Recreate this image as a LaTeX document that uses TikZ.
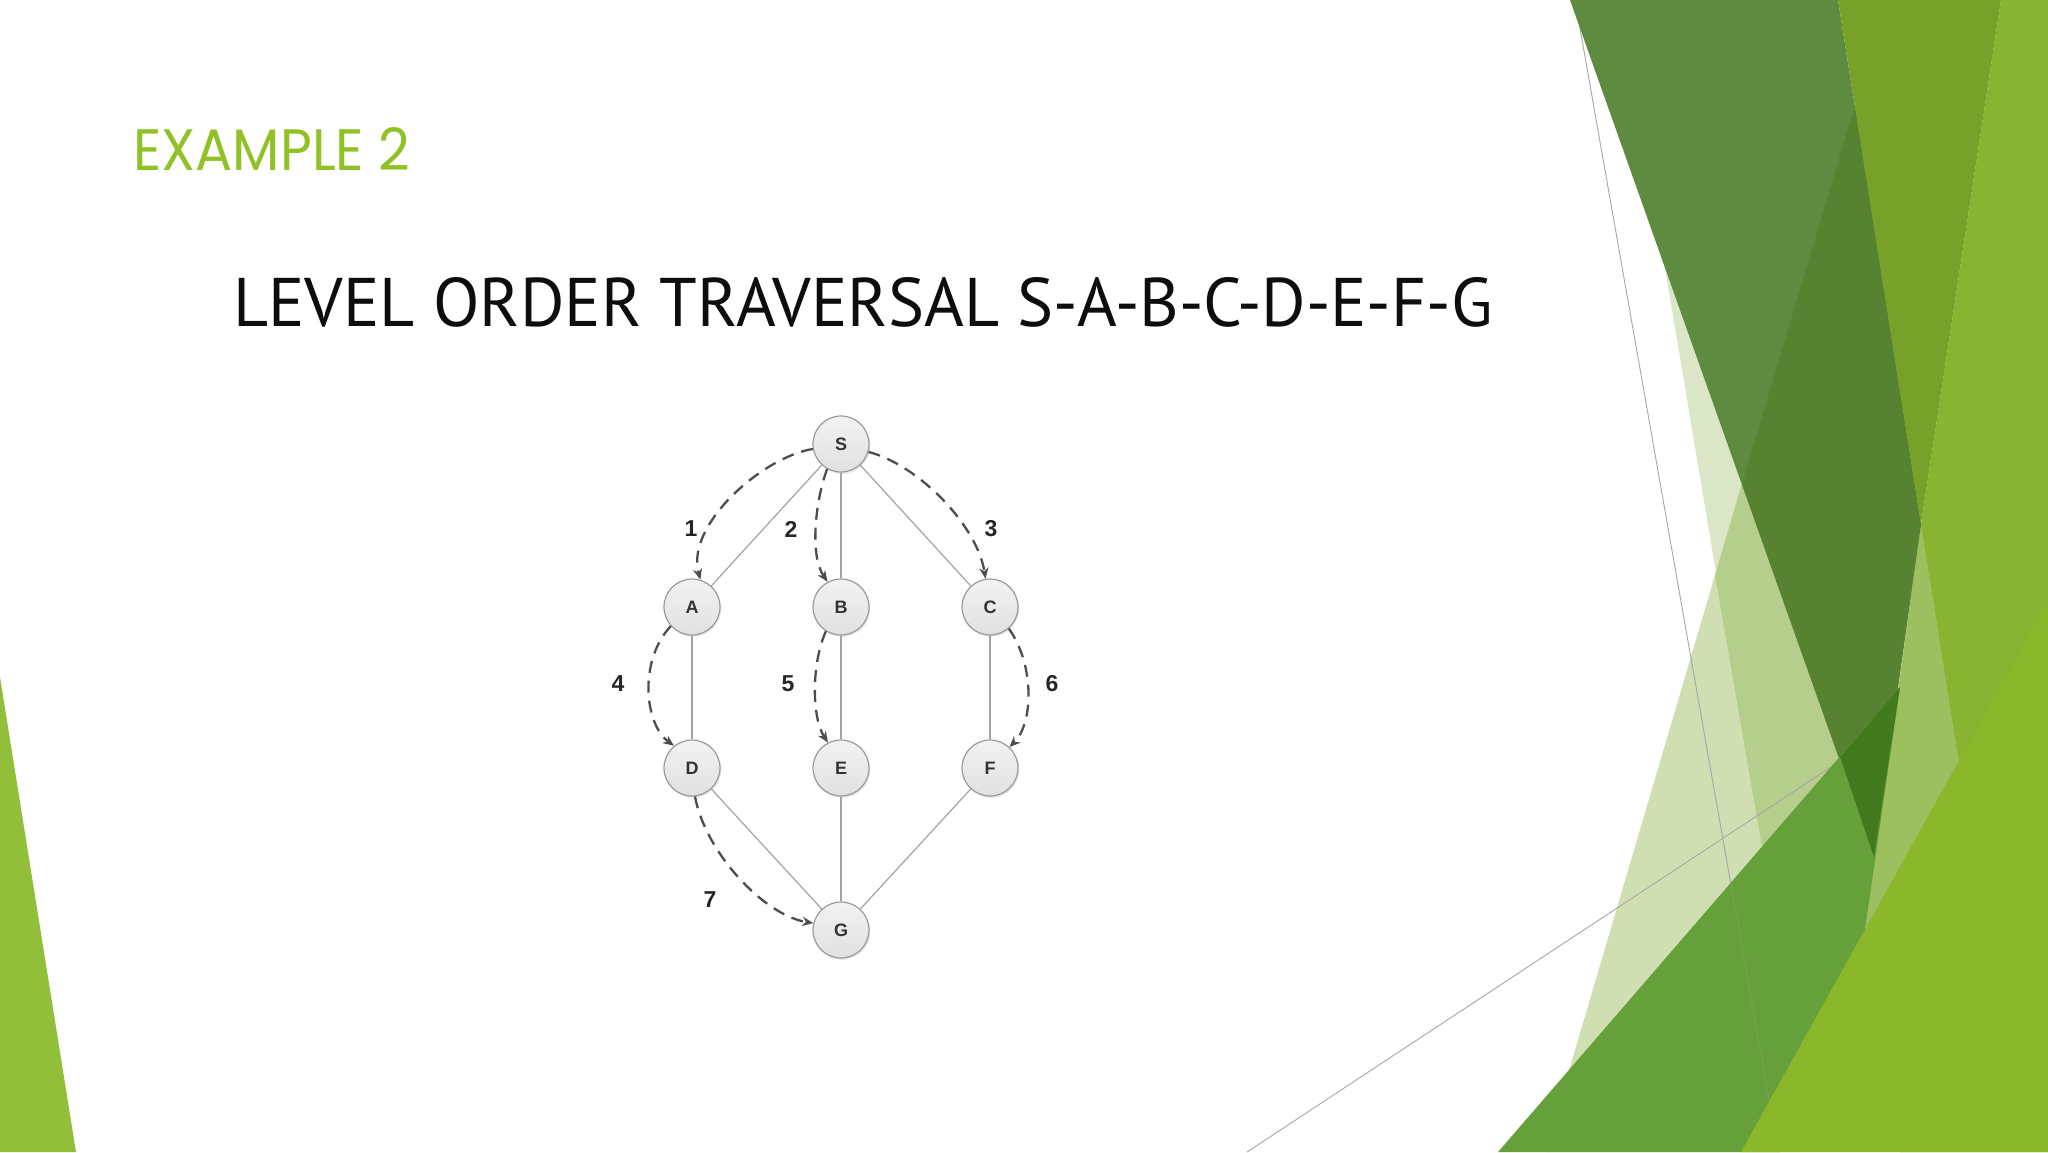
\documentclass[tikz,border=0pt]{standalone}
\usepackage{fontspec}
\usepackage{graphicx}
\setmainfont{Liberation Sans}
\newfontfamily\titlefont{PT Sans}
\newfontfamily\headfont{Poppins}
\usetikzlibrary{arrows.meta,shadows}
\definecolor{headgreen}{HTML}{90C226}
\definecolor{dOne}{HTML}{5E8B3F}
\definecolor{dTwo}{HTML}{568232}
\definecolor{medgreen}{HTML}{76A22A}
\definecolor{rightgreen}{HTML}{88B432}
\definecolor{qgreen}{HTML}{9CC060}
\definecolor{bandgreen}{HTML}{66A03A}
\definecolor{darkestgreen}{HTML}{437A1E}
\definecolor{limegreen}{HTML}{8AB82A}
\definecolor{lefttri}{HTML}{92BF3A}
\definecolor{paleone}{HTML}{DAE6C5}
\definecolor{paletwo}{HTML}{D0DFB1}
\definecolor{palemix}{HTML}{B6CE8B}
\definecolor{nodeline}{HTML}{9A9A9A}
\definecolor{edgegray}{HTML}{A3A3A3}
\definecolor{arrowgray}{HTML}{4D4D4D}
\begin{document}
\begin{tikzpicture}[x=0.5pt,y=-0.5pt,
  vert/.style={circle, draw=nodeline, line width=0.6pt, minimum size=28pt, inner sep=0pt,
    top color=white!95!black, bottom color=white!88!black,
    drop shadow={opacity=0.18, shadow xshift=0.6pt, shadow yshift=-0.9pt},
    font=\bfseries\fontsize{9}{9}\selectfont, text=black!80},
  edge/.style={draw=edgegray, line width=0.6pt},
  trav/.style={draw=arrowgray, line width=1.15pt, dash pattern=on 6pt off 4pt,
    -{Stealth[length=5.5pt,width=4.6pt]}},
  num/.style={font=\bfseries\fontsize{11.5}{11.5}\selectfont, text=black!85, inner sep=0pt},
  thin/.style={draw=black!35, line width=0.45pt}]
\useasboundingbox (0,0) rectangle (2048,1152);
\fill[white] (0,0) rectangle (2048,1152);

% left triangle
\fill[lefttri] (0,677) -- (76,1152) -- (0,1152) -- cycle;

% pale translucent shapes
\fill[paletwo] (1743,480) -- (1545,1152) -- (1800,1152) -- (1900,700) -- cycle;
\fill[paleone] (1665,268) -- (1762,847) -- (1860,760) -- (1800,450) -- cycle;
\fill[palemix] (1743,480) -- (1715,575) -- (1762,847) -- (1870,800) -- (1800,480) -- cycle;

% thin lines
\draw[thin] (1575,0) -- (1778,1152);
\draw[thin] (1247,1152) -- (1831,767);

% right strip and pale-medium triangle (extended below the lime shape)
\fill[rightgreen] (2001,0) -- (2048,0) -- (2048,1152) -- (1900,1152) -- (1921,524) -- cycle;
\fill[qgreen] (1921,524) -- (1958,757) -- (1990,800) -- (1800,1152) -- (1865,930) -- cycle;
% dark green band
\fill[dOne] (1570,0) -- (1838,0) -- (1921,524) -- (1874,857) -- cycle;
\fill[dTwo] (1855,105) -- (1921,524) -- (1874,857) -- (1742,484) -- cycle;
% medium triangle
\fill[medgreen] (1838,0) -- (2001,0) -- (1921,524) -- cycle;
% mid band
\fill[bandgreen] (1498,1152) -- (1900,687) -- (1865,930) -- (1780,1152) -- cycle;
\fill[darkestgreen] (1840,757) -- (1900,687) -- (1874,857) -- cycle;
\draw[thin, draw opacity=0.3] (1730,878) -- (1778,1152);
% lime
\fill[limegreen] (1741,1152) -- (2048,601) -- (2048,1152) -- cycle;

% heading texts
\node[anchor=base west, inner sep=0pt, text=headgreen] (head) at (133,170)
  {\resizebox{138.5pt}{21.5pt}{\headfont EXAMPLE 2}};
\node[anchor=base west, inner sep=0pt, text=black!95] (title) at (233,326)
  {\resizebox{629.5pt}{24.5pt}{\titlefont LEVEL ORDER TRAVERSAL S-A-B-C-D-E-F-G}};

% graph nodes
\node[vert] (S) at (841,444) {S};
\node[vert] (A) at (692,607) {A};
\node[vert] (B) at (841,607) {B};
\node[vert] (C) at (990,607) {C};
\node[vert] (D) at (692,768) {D};
\node[vert] (E) at (841,768) {E};
\node[vert] (F) at (990,768) {F};
\node[vert] (G) at (841,930) {G};

% tree edges
\draw[edge] (S) -- (A);
\draw[edge] (S) -- (B);
\draw[edge] (S) -- (C);
\draw[edge] (A) -- (D);
\draw[edge] (B) -- (E);
\draw[edge] (C) -- (F);
\draw[edge] (D) -- (G);
\draw[edge] (E) -- (G);
\draw[edge] (F) -- (G);

% traversal arrows
\draw[trav] (S.190) .. controls +(-50,8) and +(-15,-55) .. (A.73);
\draw[trav] (S.241) .. controls +(-12,32) and +(-18,-26) .. (B.118);
\draw[trav] (S.344) .. controls +(52,14) and +(-8,-52) .. (C.99);
\draw[trav] (A.222) .. controls +(-32,34) and +(-30,-22) .. (D.129);
\draw[trav] (B.238) .. controls +(-15,34) and +(-16,-24) .. (E.117);
\draw[trav] (C.311) .. controls +(26,36) and +(24,-24) .. (F.47);
\draw[trav] (D.276) .. controls +(10,55) and +(-50,-8) .. (G.166);

% step labels
\node[num] (n1) at (691,529) {1};
\node[num] (n2) at (791,529) {2};
\node[num] (n3) at (991,529) {3};
\node[num] (n4) at (618,684) {4};
\node[num] (n5) at (788,684) {5};
\node[num] (n6) at (1052,684) {6};
\node[num] (n7) at (710,900) {7};
\end{tikzpicture}
\end{document}
